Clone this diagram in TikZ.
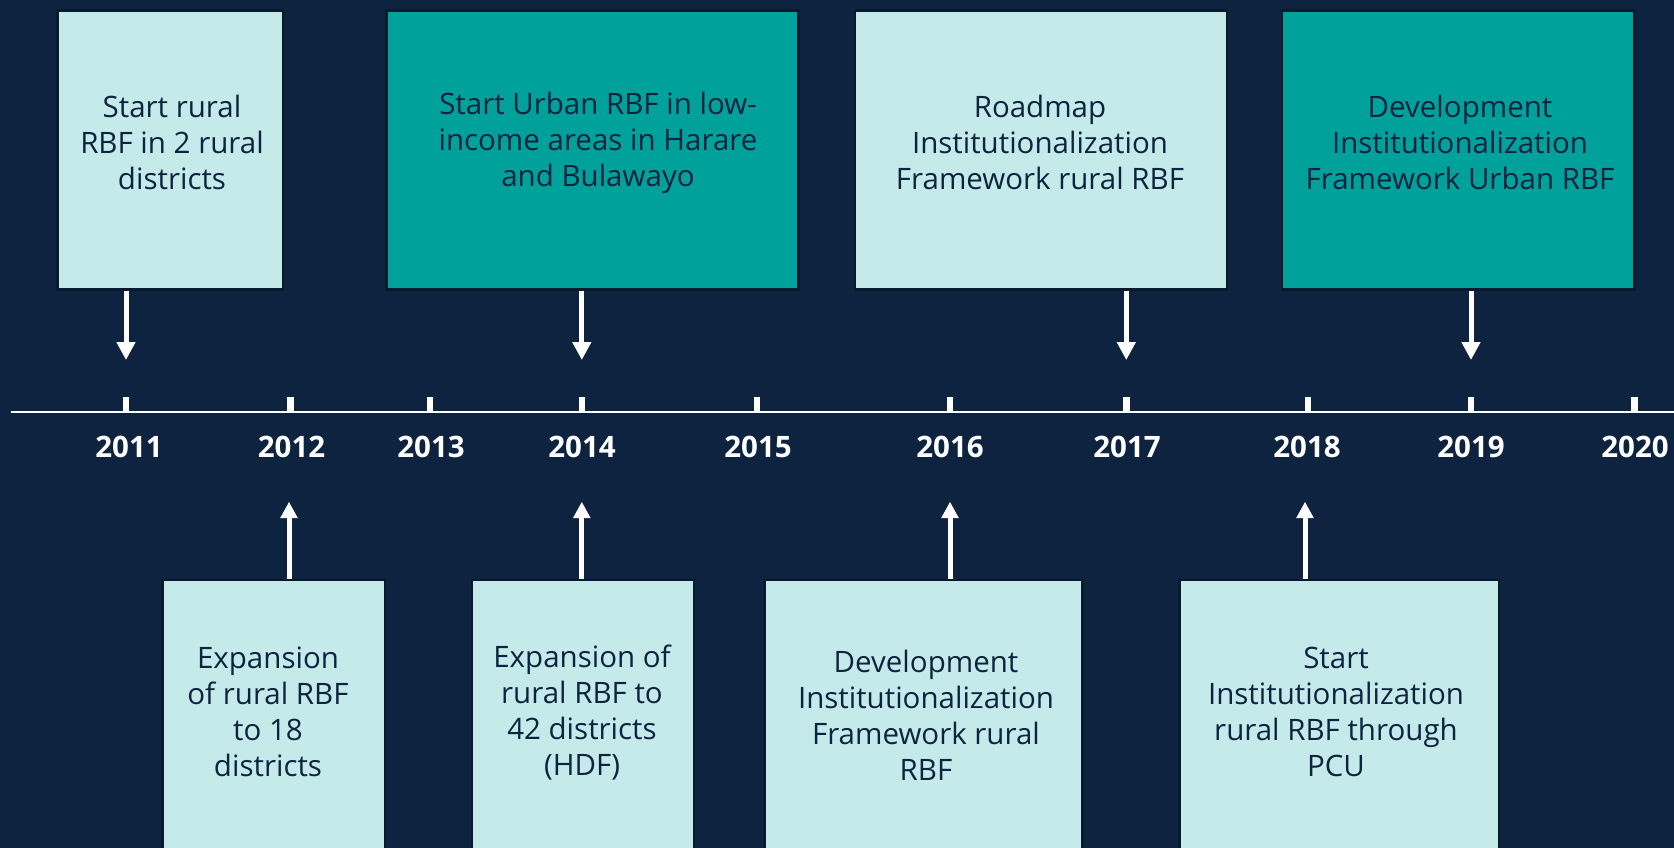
\documentclass[tikz,border=0pt]{standalone}
\usepackage{fontspec}
\setmainfont{Open Sans}
\usetikzlibrary{arrows.meta}
\definecolor{bgnavy}{HTML}{0E2340}
\definecolor{boxedge}{HTML}{0A1A2E}
\definecolor{palebox}{HTML}{C4EBEA}
\definecolor{tealbox}{HTML}{00A19B}
\definecolor{inktext}{HTML}{0E2340}
\begin{document}
\begin{tikzpicture}[x=1pt,y=-1pt,
  eventbox/.style={draw=boxedge, line width=2.5pt, inner sep=0pt},
  lightbox/.style={eventbox, fill=palebox},
  darkbox/.style={eventbox, fill=tealbox},
  eventtext/.style={text=inktext, align=center, inner sep=0pt,
    font=\fontsize{29.5}{36}\selectfont},
  yearlabel/.style={text=white, anchor=base, inner sep=0pt,
    font=\bfseries\fontsize{29.5}{35}\selectfont},
  axisline/.style={draw=white, line width=2pt},
  tickmark/.style={draw=white, line width=6.4pt},
  downarrow/.style={draw=white, line width=5pt, -{Triangle[width=18pt,length=18pt]}},
  uparrow/.style={draw=white, line width=5pt, -{Triangle[width=16.5pt,length=16.5pt]}}
]
\useasboundingbox (0,0) rectangle (1674,848);
\clip (0,0) rectangle (1674,848);
\fill[bgnavy] (0,0) rectangle (1674,848);

% time axis and year ticks
\coordinate (ax0) at (10.7,411.5);
\coordinate (ax1) at (1674,411.5);
\draw[axisline] (ax0) -- (ax1);
\foreach \yr/\xx in {11/126, 12/290.4, 13/430, 14/581.8, 15/757,
                     16/950, 17/1126.3, 18/1307.8, 19/1471, 20/1634.5} {
  \coordinate (k\yr) at (\xx,411);
  \coordinate (kt\yr) at (\xx,397);
  \draw[tickmark] (k\yr) -- (kt\yr);
}

% year labels
\node[yearlabel] (y11) at (129,457) {2011};
\node[yearlabel] (y12) at (291.5,457) {2012};
\node[yearlabel] (y13) at (431,457) {2013};
\node[yearlabel] (y14) at (582,457) {2014};
\node[yearlabel] (y15) at (758,457) {2015};
\node[yearlabel] (y16) at (950,457) {2016};
\node[yearlabel] (y17) at (1127,457) {2017};
\node[yearlabel] (y18) at (1307,457) {2018};
\node[yearlabel] (y19) at (1471,457) {2019};
\node[yearlabel] (y20) at (1635,457) {2020};

% events above the axis
\node[lightbox, minimum width=225.4, minimum height=278.6] (b1) at (170.3,150) {};
\node[darkbox,  minimum width=412.1, minimum height=278.6] (b2) at (592.5,150) {};
\node[lightbox, minimum width=371.7, minimum height=278.6] (b3) at (1040.9,150) {};
\node[darkbox,  minimum width=352.5, minimum height=278.6] (b4) at (1458.3,150) {};

\node[eventtext] (t1) at (172,142) {Start rural\\RBF in 2 rural\\districts};
\node[eventtext] (t2) at (598,143) {Start Urban RBF in low-\\income areas in Harare\\and Bulawayo};
\node[eventtext] (t3) at (1040,142) {Roadmap\\Institutionalization\\Framework rural RBF};
\node[eventtext] (t4) at (1460,142) {Development\\Institutionalization\\Framework Urban RBF};

% events below the axis
\node[lightbox, minimum width=222.3, minimum height=290] (b5) at (273.6,725) {};
\node[lightbox, minimum width=222.3, minimum height=290] (b6) at (583,725) {};
\node[lightbox, minimum width=318,   minimum height=290] (b7) at (923.5,725) {};
\node[lightbox, minimum width=319.3, minimum height=290] (b8) at (1339.3,725) {};

\node[eventtext] (t5) at (268,712) {Expansion\\of rural RBF\\to 18\\districts};
\node[eventtext] (t6) at (582,713) {Expansion of\\rural RBF to\\42 districts\\(HDF)};
\node[eventtext] (t7) at (926,715) {Development\\Institutionalization\\Framework rural\\RBF};
\node[eventtext] (t8) at (1336,712) {Start\\Institutionalization\\rural RBF through\\PCU};

% arrows from the events to the axis
\coordinate (d11) at (126,360);
\coordinate (d14) at (581.8,360);
\coordinate (d17) at (1126.3,360);
\coordinate (d19) at (1471,360);
\draw[downarrow] (b1.south -| d11) -- (d11);
\draw[downarrow] (b2.south -| d14) -- (d14);
\draw[downarrow] (b3.south -| d17) -- (d17);
\draw[downarrow] (b4.south -| d19) -- (d19);

\coordinate (u12) at (289,501.7);
\coordinate (u14) at (581.8,501.7);
\coordinate (u16) at (950,501.7);
\coordinate (u18) at (1305,501.7);
\draw[uparrow] (b5.north -| u12) -- (u12);
\draw[uparrow] (b6.north -| u14) -- (u14);
\draw[uparrow] (b7.north -| u16) -- (u16);
\draw[uparrow] (b8.north -| u18) -- (u18);
\end{tikzpicture}
\end{document}
